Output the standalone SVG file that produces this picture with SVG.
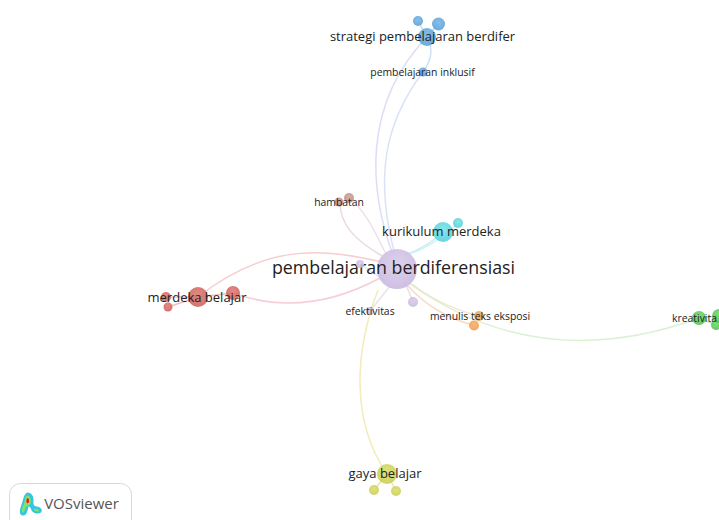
<svg xmlns="http://www.w3.org/2000/svg" width="719" height="520" viewBox="0 0 719 520">
<style>
text{font-family:"Open Sans","Noto Sans",sans-serif;fill:#222;text-anchor:middle}
#connectors path{fill:none;stroke-width:1.5;stroke-opacity:.85}
circle{fill-opacity:.88}
.l{font-size:10.400px}.m{font-size:13px}.h{font-size:17.800px}
.pu{fill:url(#gpu)}.bl{fill:url(#gbl)}.cy{fill:url(#gcy)}.re{fill:url(#gre)}.br{fill:url(#gbr)}.or{fill:url(#gor)}.ye{fill:url(#gye)}.gr{fill:url(#ggr)}
</style>
<defs>
<radialGradient id="gpu" cx=".5" cy=".4" r=".6"><stop offset="0" stop-color="#d8cbe9"/><stop offset="1" stop-color="#c8b7df"/></radialGradient>
<radialGradient id="gbl" cx=".5" cy=".4" r=".6"><stop offset="0" stop-color="#74b6e8"/><stop offset="1" stop-color="#5a9fd6"/></radialGradient>
<radialGradient id="gcy" cx=".5" cy=".4" r=".6"><stop offset="0" stop-color="#7be2ea"/><stop offset="1" stop-color="#50cfdc"/></radialGradient>
<radialGradient id="gre" cx=".5" cy=".4" r=".6"><stop offset="0" stop-color="#e07a72"/><stop offset="1" stop-color="#cb5f5a"/></radialGradient>
<radialGradient id="gbr" cx=".5" cy=".4" r=".6"><stop offset="0" stop-color="#d2a19b"/><stop offset="1" stop-color="#be8a84"/></radialGradient>
<radialGradient id="gor" cx=".5" cy=".4" r=".6"><stop offset="0" stop-color="#f9b068"/><stop offset="1" stop-color="#f09a4a"/></radialGradient>
<radialGradient id="gye" cx=".5" cy=".4" r=".6"><stop offset="0" stop-color="#dcdf6c"/><stop offset="1" stop-color="#c8cc50"/></radialGradient>
<radialGradient id="ggr" cx=".5" cy=".4" r=".6"><stop offset="0" stop-color="#72dc68"/><stop offset="1" stop-color="#52c04e"/></radialGradient>
</defs>
<rect width="719" height="520" fill="#fff"/>
<g id="connectors">
<path d="M393 255C369 190 362 105 427 37" stroke="#d5d8f5"/>
<path d="M395 255C375 180 383 125 423 72" stroke="#d5dcf7"/>
<path d="M427 37C433 48 432 60 423 72" stroke="#c5dcf5"/>
<path d="M427 37L418 21M427 37L438 24" stroke="#b5d5f2"/>
<path d="M382 256C355 240 340 225 340 202" stroke="#e8d3da"/>
<path d="M385 252C375 232 365 210 349 198" stroke="#ecdbe3"/>
<path d="M382 262C330 250 270 240 198 297" stroke="#f4c4c8"/>
<path d="M380 278C330 305 280 310 233 293" stroke="#f4c4cc"/>
<path d="M198 297L233 293M198 297L166 297M198 297L168 307" stroke="#eeb4b0"/>
<path d="M405 255C420 250 435 240 443 232" stroke="#bfe9f5"/>
<path d="M408 254C425 250 445 235 458 223" stroke="#c5eef6"/>
<path d="M404 280L413 302" stroke="#e0d8ee"/>
<path d="M390 286L370 311" stroke="#e6dcec"/>
<path d="M384 280L360 264" stroke="#e6dcec"/>
<path d="M408 286C425 305 450 320 474 325" stroke="#f8d5bb"/>
<path d="M412 284C430 298 455 310 479 316" stroke="#f9dcc4"/>
<path d="M410 284C475 330 570 365 699 318" stroke="#d4eecb"/>
<path d="M699 318L716 325M699 318L719 316" stroke="#b5e8ac"/>
<path d="M378 290C355 350 350 420 387 474" stroke="#efe9ad"/>
<path d="M387 474L374 490M387 474L396 491" stroke="#e2e39b"/>
</g>
<g id="n-pembelajaran-berdiferensiasi"><circle class="pu" cx="397" cy="269" r="20"/><text class="h" x="393.500" y="274">pembelajaran berdiferensiasi</text></g>
<g id="n-kurikulum-merdeka"><circle class="cy" cx="443" cy="232" r="10"/><circle class="cy" cx="458" cy="223" r="5"/><text class="m" x="441.500" y="236">kurikulum merdeka</text></g>
<g id="n-strategi"><circle class="bl" cx="418" cy="21" r="5"/><circle class="bl" cx="438.500" cy="24" r="6.500"/><circle class="bl" cx="427" cy="37" r="9"/><text class="m" x="422.500" y="41">strategi pembelajaran berdifer</text></g>
<g id="n-pembelajaran-inklusif"><circle class="bl" cx="423" cy="72" r="4.500"/><text class="l" x="422.500" y="76">pembelajaran inklusif</text></g>
<g id="n-hambatan"><circle class="br" cx="349" cy="198" r="5"/><circle class="br" cx="339" cy="202" r="4.500"/><text class="l" x="339" y="206">hambatan</text></g>
<g id="n-merdeka-belajar"><circle class="re" cx="166" cy="297" r="5"/><circle class="re" cx="168" cy="307" r="4.500"/><circle class="re" cx="233" cy="293" r="7"/><circle class="re" cx="198" cy="297" r="10"/><text class="m" x="197" y="301.500">merdeka belajar</text></g>
<g id="n-efektivitas"><circle class="pu" cx="360" cy="264" r="4"/><circle class="pu" cx="413" cy="302" r="5"/><circle class="pu" cx="370" cy="311" r="4"/><text class="l" x="370" y="315">efektivitas</text></g>
<g id="n-menulis-teks-eksposi"><circle class="or" cx="479" cy="316" r="5"/><circle class="or" cx="474" cy="325.500" r="5"/><text class="l" x="480" y="319.500">menulis teks eksposi</text></g>
<g id="n-gaya-belajar"><circle class="ye" cx="374" cy="490" r="5"/><circle class="ye" cx="396" cy="491" r="5"/><circle class="ye" cx="387" cy="474" r="10"/><text class="m" x="385" y="478">gaya belajar</text></g>
<g id="n-kreativitas"><circle class="gr" cx="699" cy="318" r="7"/><circle class="gr" cx="716" cy="325" r="5"/><circle class="gr" cx="719" cy="316" r="7"/><text class="l" x="672" y="321.500" style="text-anchor:start">kreativita</text></g>
<g id="vosviewer-logo">
<rect x="9.500" y="483.500" width="122" height="50" rx="11" fill="#fff" stroke="#d8d8d8"/>
<path d="M27 492.500C31 492 34 496 33.500 501C33 505 34 506 37 506.500C41 507 43 510 41 512.500C38 515 32 513 31 509C30 506 28.500 505.500 28 508C27.500 512 26 516 22.500 515.500C19 515 19.500 510 21 506C23 502 23 495 27 492.500Z" fill="#35c4e2"/>
<path d="M27 495.500C30 495 31.500 500 30.500 503.500C29.500 506 27 505.500 26 507C25 510 24 513 22.500 512.500C21 512 22 508 23.500 505C25 502 24.500 497 27 495.500ZM34 509C36 508 39.500 509.500 39 511C38 512.500 33.500 511 34 509Z" fill="#7ee36a"/>
<path d="M27.500 497.500C29.500 498 29.800 503 28.200 504C26 505 25.500 499.500 27.500 497.500Z" fill="#f0e040"/>
<ellipse cx="27.700" cy="500.800" rx="1.400" ry="2.700" fill="#d8201c"/>
<text x="81.500" y="509" style="font-size:15px;fill:#555">VOSviewer</text>
</g>
</svg>
